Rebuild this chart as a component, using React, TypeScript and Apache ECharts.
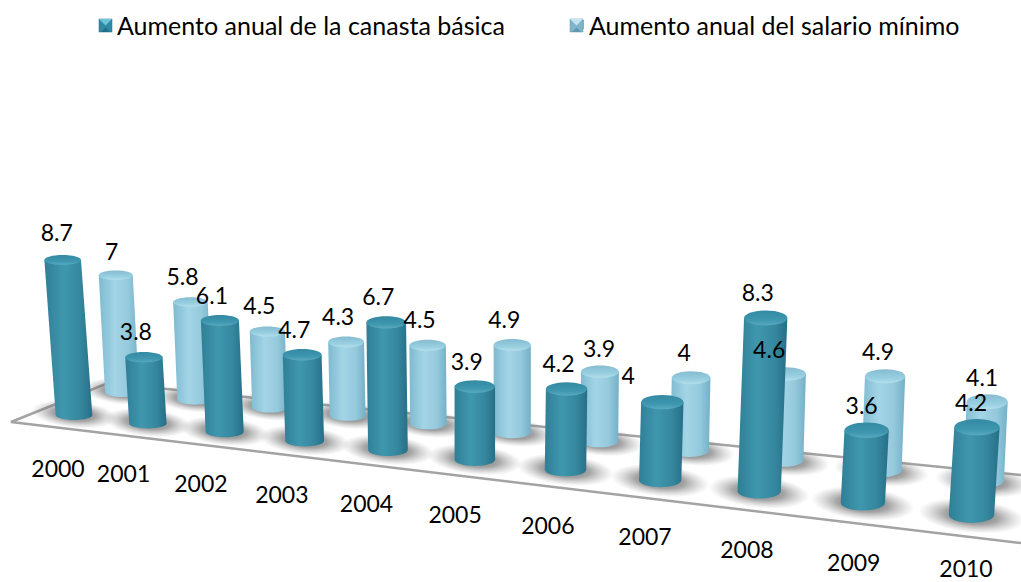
import React, { useEffect, useRef } from "react";
import * as echarts from "echarts";

const years = ["2000", "2001", "2002", "2003", "2004", "2005", "2006", "2007", "2008", "2009", "2010"];
const canasta = [8.7, 3.8, 6.1, 4.7, 6.7, 3.9, 4.2, 4, 8.3, 3.6, 4.2];
const salario = [7, 5.8, 4.5, 4.3, 4.5, 4.9, 3.9, 4, 4.6, 4.9, 4.1];
const nameCanasta = "Aumento anual de la canasta básica";
const nameSalario = "Aumento anual del salario mínimo";

const FONT = "Lato, Carlito, Calibri, sans-serif";

// Perspective of each row of cylinders, applied to the grid's own pixel coordinates.
const FRONT = { c: 0.0193, sx: 1, ox: 0, sy: 1, y1: 420, k: 0.2, lean: 0.26, r: 18.3 };
const BACK = { c: 0.0172, sx: 0.975, ox: 49.9, sy: 0.9457, y1: 397, k: 0.7, lean: 0.18, r: 17 };

function project(api: any, row: any, i: number, v: number) {
  const base = api.coord([i, 0]);
  const p = api.coord([i, v]);
  const w = 1 - row.c * i;
  return {
    x: (p[0] * row.sx + row.ox) / w + (i - 5) * row.lean * v,
    y: ((p[1] - base[1]) * row.sy + row.y1 + row.k * i) / w,
    w,
  };
}

const frontSide = new echarts.graphic.LinearGradient(0, 0, 1, 0, [
  { offset: 0, color: "#2f7f96" },
  { offset: 0.4, color: "#3f97ae" },
  { offset: 0.75, color: "#35879e" },
  { offset: 1, color: "#266f87" },
]);
const frontTop = new echarts.graphic.LinearGradient(0, 0, 0, 1, [
  { offset: 0, color: "#338aa2" },
  { offset: 0.65, color: "#3e97af" },
  { offset: 1, color: "#59aac0" },
]);
const backSide = new echarts.graphic.LinearGradient(0, 0, 1, 0, [
  { offset: 0, color: "#7fbad0" },
  { offset: 0.4, color: "#a3d5e6" },
  { offset: 0.75, color: "#94c8db" },
  { offset: 1, color: "#74b0c8" },
]);
const backTop = new echarts.graphic.LinearGradient(0, 0, 0, 1, [
  { offset: 0, color: "#86bcd0" },
  { offset: 0.65, color: "#98cfe1" },
  { offset: 1, color: "#b4dfec" },
]);

function cylinder(row: any, side: any, top: any) {
  return (_params: any, api: any) => {
    const i = api.value(0);
    const v = api.value(1);
    const b = project(api, row, i, 0);
    const t = project(api, row, i, v);
    const rx = row.r / b.w;
    const ry = rx * (0.27 + 0.009 * i);
    const topCy = t.y;
    const baseCy = b.y - ry;
    const pts: number[][] = [
      [t.x - rx, topCy],
      [t.x + rx, topCy],
    ];
    for (let k = 0; k <= 16; k++) {
      const a = (Math.PI * k) / 16;
      pts.push([b.x + rx * Math.cos(a), baseCy + ry * Math.sin(a)]);
    }
    return {
      type: "group",
      children: [
        { type: "polygon", shape: { points: pts }, style: { fill: side } },
        { type: "ellipse", shape: { cx: t.x, cy: topCy, rx, ry }, style: { fill: top } },
      ],
    };
  };
}

const shadowFill = new echarts.graphic.RadialGradient(0.5, 0.5, 0.5, [
  { offset: 0, color: "rgba(70,70,70,0.8)" },
  { offset: 0.5, color: "rgba(100,100,100,0.58)" },
  { offset: 1, color: "rgba(150,150,150,0)" },
]);

function renderShadow(_params: any, api: any) {
  const i = api.value(0);
  const children = [BACK, FRONT].map((row) => {
    const b = project(api, row, i, 0);
    const rx = (row.r / b.w) * 2.35;
    const ry = (row.r / b.w) * 0.75;
    const cy = b.y - (row.r / b.w) * 0.32;
    return {
      type: "ellipse",
      shape: { cx: b.x, cy, rx, ry },
      rotation: -0.1,
      originX: b.x,
      originY: cy,
      style: { fill: shadowFill },
    };
  });
  return { type: "group", children };
}

const DEFAULT_SHIFT = [-8, -26];
// Hand-placed data labels of the original.
const frontShift: Record<string, number[]> = { "2000": [-6, -28], "2007": [-34, -27], "2009": [-5, -25], "2010": [-6, -25] };
const backShift: Record<string, number[]> = { "2000": [-4, -24], "2006": [-1, -24], "2007": [-7, -26], "2008": [-17, -25], "2009": [-7, -25], "2010": [-5, -25] };
const yearDrop = [48, 45, 46, 48, 47, 48, 49, 49, 50, 52, 45];

function renderValueLabel(row: any, shift: Record<string, number[]>) {
  return (_params: any, api: any) => {
    const i = api.value(0);
    const v = api.value(1);
    const t = project(api, row, i, v);
    const s = shift[years[i]] || DEFAULT_SHIFT;
    return {
      type: "text",
      x: t.x + s[0],
      y: t.y + s[1],
      style: { text: String(v), font: `23px ${FONT}`, fill: "#000", align: "center", verticalAlign: "middle" },
    };
  };
}

function renderYear(_params: any, api: any) {
  const i = api.value(0);
  const b = project(api, FRONT, i, 0);
  const dx = i === 0 ? -16 : -24.5 + 0.19 * i * i;
  return {
    type: "text",
    x: b.x + dx,
    y: b.y + yearDrop[i],
    style: { text: years[i], font: `23px ${FONT}`, lineHeight: 17, fill: "#000", align: "center", verticalAlign: "middle" },
  };
}

// The bevelled look of the original legend keys.
function legendKey(x: number, y: number, size: number, face: string, light: string, dark: string) {
  const mx = x + size / 2;
  const my = y + size / 2;
  const e = x + size;
  const f = y + size;
  return [
    { type: "rect", z: 10, shape: { x, y, width: size, height: size }, style: { fill: face, stroke: dark, lineWidth: 0.5 } },
    { type: "polygon", z: 11, shape: { points: [[x, y], [e, y], [mx, my]] }, style: { fill: light } },
    { type: "polygon", z: 11, shape: { points: [[x + 2, f], [e - 2, f], [mx, my + 2]] }, style: { fill: dark } },
  ];
}

export default function App() {
  const ref = useRef<HTMLDivElement>(null);
  useEffect(() => {
    const chart = echarts.init(ref.current!, null, { renderer: "svg" });
    const rowsF = years.map((y, i) => [y, canasta[i]]);
    const rowsB = years.map((y, i) => [y, salario[i]]);
    const encode = { x: 0, y: 1 };
    chart.setOption({
      animation: false,
      backgroundColor: "#fff",
      grid: { left: 74, top: 236, width: 710, height: 184 },
      xAxis: { type: "category", data: years, boundaryGap: false, show: false },
      yAxis: { type: "value", min: 0, max: 10, show: false },
      legend: {
        left: 99,
        top: 12,
        padding: 0,
        data: [nameCanasta, nameSalario],
        icon: "rect",
        itemWidth: 13,
        itemHeight: 9,
        itemGap: 66,
        selectedMode: false,
        textStyle: { fontFamily: FONT, fontSize: 25, color: "#000" },
      },
      graphic: [
        {
          type: "polyline",
          z: 0,
          shape: { points: [[1021, 475], [108, 383], [11, 422], [1021, 543]] },
          style: { stroke: "#a3a3a3", lineWidth: 2.5, fill: "none" },
        },
        ...legendKey(99, 19, 13, "#2f8aa6", "#6cc4d8", "#1f6f88"),
        ...legendKey(570, 19, 13, "#7fb4c9", "#c4e4ef", "#5f9ab2"),
      ],
      series: [
        { type: "custom", silent: true, z: 2, encode, data: rowsF, renderItem: renderShadow },
        { type: "custom", silent: true, z: 3, name: nameSalario, itemStyle: { color: "#7fb4c9" }, encode, data: rowsB, renderItem: cylinder(BACK, backSide, backTop) },
        { type: "custom", silent: true, z: 4, name: nameCanasta, itemStyle: { color: "#2f8aa6" }, encode, data: rowsF, renderItem: cylinder(FRONT, frontSide, frontTop) },
        { type: "custom", silent: true, z: 5, encode, data: rowsF, renderItem: renderValueLabel(FRONT, frontShift) },
        { type: "custom", silent: true, z: 5, encode, data: rowsB, renderItem: renderValueLabel(BACK, backShift) },
        { type: "custom", silent: true, z: 5, encode, data: rowsF, renderItem: renderYear },
      ],
    });
    return () => chart.dispose();
  }, []);
  return <div ref={ref} style={{ position: "fixed", left: 0, top: 0, width: 1021, height: 582 }} />;
}
